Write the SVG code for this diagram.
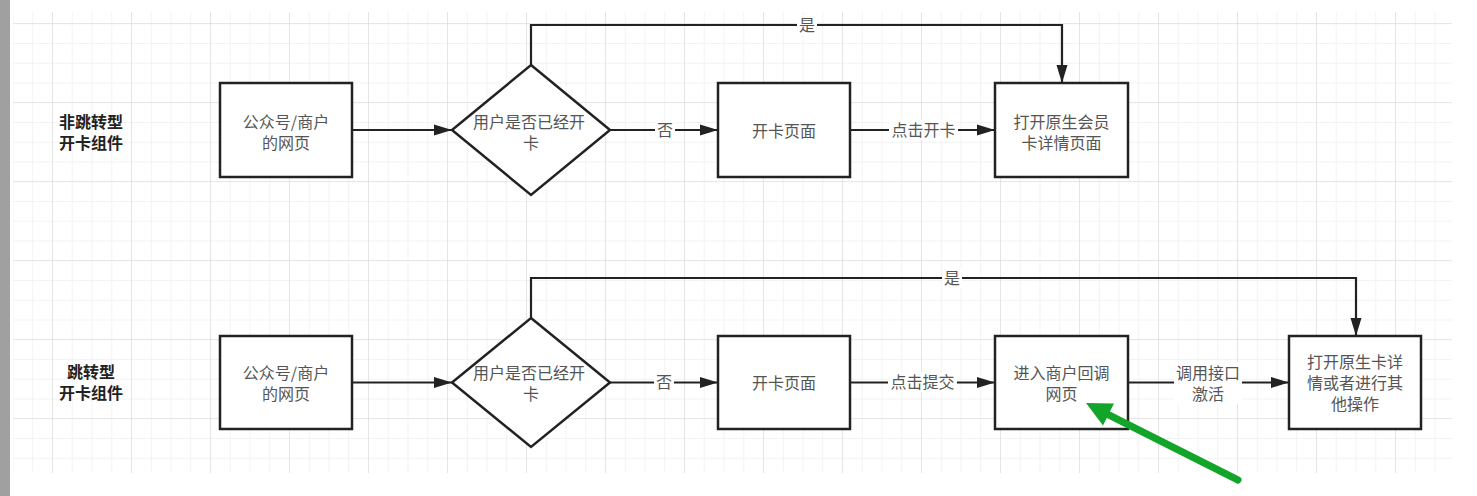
<svg xmlns="http://www.w3.org/2000/svg" width="1477" height="496" viewBox="0 0 1477 496">
<style>
.box{fill:#fff;stroke:#222;stroke-width:2.5}
.t{font-family:"Noto Sans CJK SC","Noto Sans",sans-serif;font-size:16px;fill:#555;text-anchor:middle}
.lbl{font-family:"Noto Sans CJK SC","Noto Sans",sans-serif;font-size:16px;font-weight:bold;fill:#222;text-anchor:middle}
.c{fill:none;stroke:#222;stroke-width:2.2}
.bg{fill:#fff}
</style>
<defs>
<pattern id="minor" patternUnits="userSpaceOnUse" x="12.5" y="3.5" width="19.75" height="19.75">
<path d="M0,0 H19.75 M0,0 V19.75" fill="none" stroke="#e8e8e8" stroke-width="1"/>
</pattern>
<pattern id="major" patternUnits="userSpaceOnUse" x="52" y="23" width="79" height="79">
<path d="M0,0 H79 M0,0 V79" fill="none" stroke="#d8d8d8" stroke-width="1"/>
</pattern>
<marker id="ah" markerUnits="userSpaceOnUse" markerWidth="18" markerHeight="12" refX="18" refY="6" orient="auto">
<path d="M0,0.5 L18,6 L0,11.5 Z" fill="#222"/>
</marker>
</defs>
<rect x="0" y="0" width="1477" height="496" fill="#fff"/>
<rect x="0" y="0" width="10" height="496" fill="#a0a0a0"/>
<rect x="13" y="12" width="1439" height="461" fill="url(#minor)"/>
<rect x="13" y="12" width="1439" height="461" fill="url(#major)"/>

<g id="connectors">
<path class="c" d="M352,130 H452" marker-end="url(#ah)"/>
<path class="c" d="M610,130 H718" marker-end="url(#ah)"/>
<path class="c" d="M850,130 H995" marker-end="url(#ah)"/>
<path class="c" d="M531,65 V25 H1062 V83" marker-end="url(#ah)"/>
<path class="c" d="M352,382.5 H452" marker-end="url(#ah)"/>
<path class="c" d="M610,382.5 H718" marker-end="url(#ah)"/>
<path class="c" d="M850,382.5 H995" marker-end="url(#ah)"/>
<path class="c" d="M1128,382.5 H1289" marker-end="url(#ah)"/>
<path class="c" d="M531,318 V278 H1356 V336" marker-end="url(#ah)"/>
<rect class="bg" x="797" y="15" width="20" height="20"/>
<text class="t" x="807" y="31">是</text>
<rect class="bg" x="655" y="120" width="20" height="20"/>
<text class="t" x="665" y="136">否</text>
<rect class="bg" x="889" y="120" width="69" height="20"/>
<text class="t" x="923.5" y="136">点击开卡</text>
<rect class="bg" x="942" y="268" width="20" height="20"/>
<text class="t" x="952" y="284">是</text>
<rect class="bg" x="654" y="372" width="20" height="20"/>
<text class="t" x="664" y="388">否</text>
<rect class="bg" x="888" y="372" width="69" height="20"/>
<text class="t" x="922.5" y="388">点击提交</text>
<rect class="bg" x="1174" y="362" width="68" height="42"/>
<text class="t" x="1208" y="379">调用接口</text>
<text class="t" x="1208" y="400">激活</text>
</g>

<g id="label-row1">
<text class="lbl" x="91" y="127.5">非跳转型</text>
<text class="lbl" x="91" y="148.5">开卡组件</text>
</g>
<g id="label-row2">
<text class="lbl" x="91" y="378">跳转型</text>
<text class="lbl" x="91" y="399">开卡组件</text>
</g>

<g id="n1-web">
<rect class="box" x="220" y="83" width="132" height="94"/>
<text class="t" x="286" y="127.5">公众号/商户</text>
<text class="t" x="286" y="148.5">的网页</text>
</g>
<g id="n1-decision">
<polygon class="box" points="531,65 610,130 531,195 452,130"/>
<text class="t" x="529" y="127.5">用户是否已经开</text>
<text class="t" x="531" y="148.5">卡</text>
</g>
<g id="n1-open">
<rect class="box" x="718" y="83" width="132" height="94"/>
<text class="t" x="784" y="136.5">开卡页面</text>
</g>
<g id="n1-native">
<rect class="box" x="995" y="83" width="133" height="94"/>
<text class="t" x="1061.5" y="127.5">打开原生会员</text>
<text class="t" x="1061.5" y="148.5">卡详情页面</text>
</g>

<g id="n2-web">
<rect class="box" x="220" y="336" width="132" height="93"/>
<text class="t" x="286" y="379">公众号/商户</text>
<text class="t" x="286" y="400">的网页</text>
</g>
<g id="n2-decision">
<polygon class="box" points="531,318 610,382.5 531,447 452,382.5"/>
<text class="t" x="529" y="379">用户是否已经开</text>
<text class="t" x="531" y="400">卡</text>
</g>
<g id="n2-open">
<rect class="box" x="718" y="336" width="132" height="93"/>
<text class="t" x="784" y="388.5">开卡页面</text>
</g>
<g id="n2-callback">
<rect class="box" x="995" y="336" width="133" height="93"/>
<text class="t" x="1061.5" y="379">进入商户回调</text>
<text class="t" x="1061.5" y="400">网页</text>
</g>
<g id="n2-native">
<rect class="box" x="1289" y="336" width="132" height="93"/>
<text class="t" x="1355" y="368">打开原生卡详</text>
<text class="t" x="1355" y="389">情或者进行其</text>
<text class="t" x="1355" y="410">他操作</text>
</g>

<g id="green-arrow">
<line x1="1238" y1="480" x2="1106" y2="413.5" stroke="#12a52a" stroke-width="7" stroke-linecap="round"/>
<polygon points="1086,403 1114,403.5 1103,425.5" fill="#12a52a"/>
</g>
</svg>
